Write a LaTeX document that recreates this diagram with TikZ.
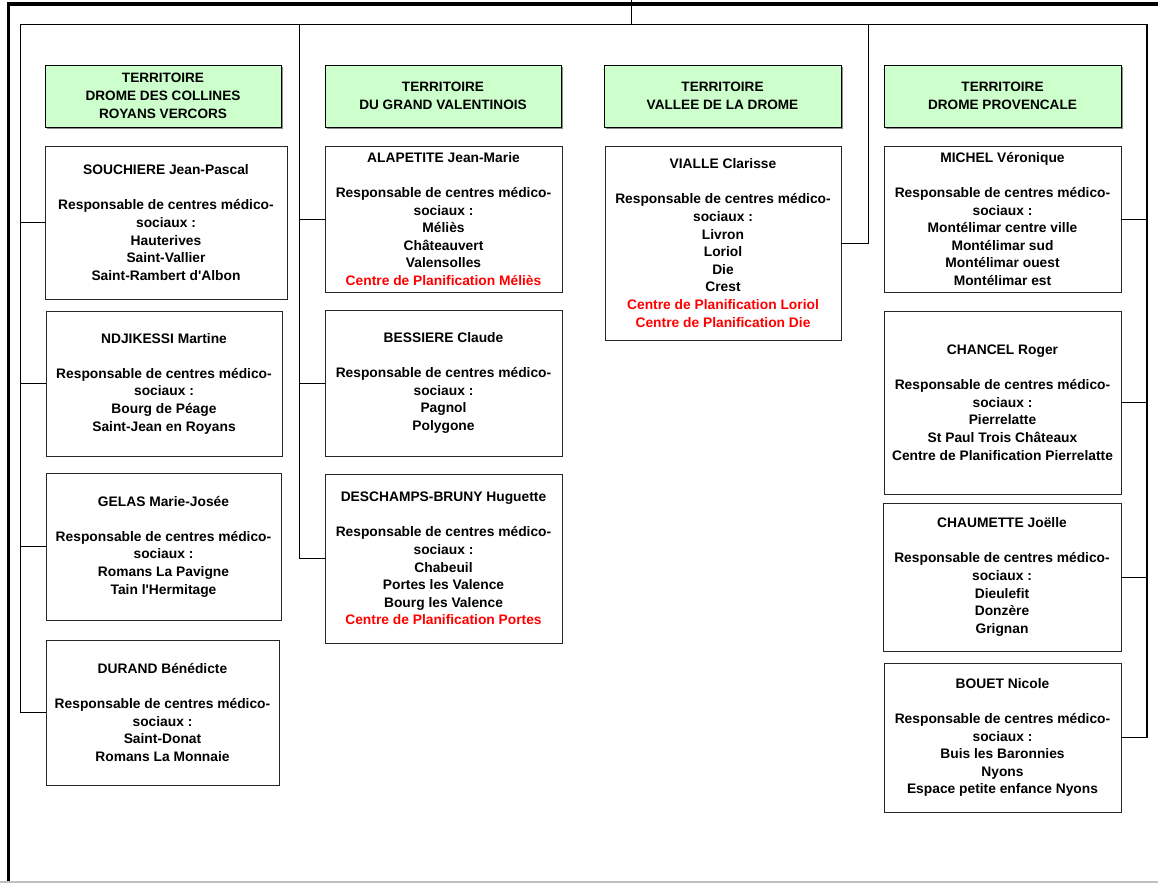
\documentclass[tikz,border=0pt]{standalone}
\usepackage{fontspec}
\setmainfont{Liberation Sans}
\newfontfamily\arialf{Liberation Sans}
\usetikzlibrary{shadows}
\definecolor{hdrgreen}{HTML}{CCFFCC}
\definecolor{planred}{HTML}{FF0000}
\begin{document}
\begin{tikzpicture}[x=1pt,y=-1pt,
  txt/.style={font=\arialf\fontsize{13.8pt}{17.6pt}\selectfont\bfseries, align=center, inner sep=0pt},
  hdr/.style={txt, font=\arialf\fontsize{13.6pt}{18pt}\selectfont\bfseries, draw=black, line width=0.8pt, fill=hdrgreen, minimum height=62pt,
    drop shadow={shadow xshift=2pt, shadow yshift=-2pt, fill=black!45, opacity=1}},
  pbox/.style={txt, draw=black!85, line width=0.8pt, fill=white,
    drop shadow={shadow xshift=1.2pt, shadow yshift=-1.2pt, fill=black!40, opacity=1}},
  link/.style={draw=black, line width=0.9pt},
  frameline/.style={line width=3.5pt, line join=miter, draw=black}
]
\useasboundingbox (0,0) rectangle (1158,883);
\newcommand{\resp}{\\[17.6pt]Responsable de centres médico-\\sociaux :\\}
\newcommand{\red}[1]{{\color{planred}#1}}

% headers
\node[hdr, minimum width=236pt] (h1) at (163,96) {TERRITOIRE\\DROME DES COLLINES\\ROYANS VERCORS};
\node[hdr, minimum width=236pt] (h2) at (443,96) {TERRITOIRE\\DU GRAND VALENTINOIS};
\node[hdr, minimum width=237pt] (h3) at (722.5,96) {TERRITOIRE\\VALLEE DE LA DROME};
\node[hdr, minimum width=237pt] (h4) at (1002.5,96) {TERRITOIRE\\DROME PROVENCALE};

% column 1
\node[pbox, minimum width=242pt, minimum height=153pt] (a1) at (166,222.5)
  {SOUCHIERE Jean-Pascal\resp Hauterives\\Saint-Vallier\\Saint-Rambert d'Albon};
\node[pbox, minimum width=236pt, minimum height=145pt] (a2) at (164,383.5)
  {NDJIKESSI Martine\resp Bourg de Péage\\Saint-Jean en Royans};
\node[pbox, minimum width=235pt, minimum height=147pt] (a3) at (163.5,546.5)
  {GELAS Marie-Josée\resp Romans La Pavigne\\Tain l'Hermitage};
\node[pbox, minimum width=233pt, minimum height=145pt] (a4) at (162.5,712.5)
  {DURAND Bénédicte\resp Saint-Donat\\Romans La Monnaie};

% column 2
\node[pbox, minimum width=237pt, minimum height=146pt] (b1) at (443.5,219)
  {ALAPETITE Jean-Marie\resp Méliès\\Châteauvert\\Valensolles\\\red{Centre de Planification Méliès}};
\node[pbox, minimum width=237pt, minimum height=146pt] (b2) at (443.5,383)
  {BESSIERE Claude\resp Pagnol\\Polygone};
\node[pbox, minimum width=237pt, minimum height=169pt] (b3) at (443.5,558.5)
  {DESCHAMPS-BRUNY Huguette\resp Chabeuil\\Portes les Valence\\Bourg les Valence\\\red{Centre de Planification Portes}};

% column 3
\node[pbox, minimum width=236pt, minimum height=194pt] (c1) at (723,243)
  {VIALLE Clarisse\resp Livron\\Loriol\\Die\\Crest\\\red{Centre de Planification Loriol}\\\red{Centre de Planification Die}};

% column 4
\node[pbox, minimum width=237pt, minimum height=146pt] (d1) at (1002.5,219)
  {MICHEL Véronique\resp Montélimar centre ville\\Montélimar sud\\Montélimar ouest\\Montélimar est};
\node[pbox, minimum width=237pt, minimum height=183pt] (d2) at (1002.5,402.5)
  {CHANCEL Roger\resp Pierrelatte\\St Paul Trois Châteaux\\Centre de Planification Pierrelatte};
\node[pbox, minimum width=238pt, minimum height=148pt] (d3) at (1002,577)
  {CHAUMETTE Joëlle\resp Dieulefit\\Donzère\\Grignan};
\node[pbox, minimum width=237pt, minimum height=149pt] (d4) at (1002.5,737.5)
  {BOUET Nicole\resp Buis les Baronnies\\Nyons\\Espace petite enfance Nyons};

% bus coordinates
\coordinate (top) at (631,0);
\coordinate (topj) at (631,24);
\coordinate (busA) at (20,24);
\coordinate (busB) at (299,24);
\coordinate (busC) at (868,24);
\coordinate (busD) at (1147,24);

% outer frame
\draw[frameline] (8.5,883) -- (8.5,3.8) -- (1158,3.8);
\draw[draw=black!25, line width=1.5pt] (0,882) -- (1158,882);

\draw[link] (top) -- (topj);
\draw[link] (busA) -- (busD);
\draw[link] (busA) |- (a4.west);
\draw[link] (a1.west) -- (a1.west -| busA);
\draw[link] (a2.west) -- (a2.west -| busA);
\draw[link] (a3.west) -- (a3.west -| busA);
\draw[link] (busB) |- (b3.west);
\draw[link] (b1.west) -- (b1.west -| busB);
\draw[link] (b2.west) -- (b2.west -| busB);
\draw[link] (busC) |- (c1.east);
\draw[link, line width=1.3pt] (busD) |- (d4.east);
\draw[link] (d1.east) -- (d1.east -| busD);
\draw[link] (d2.east) -- (d2.east -| busD);
\draw[link] (d3.east) -- (d3.east -| busD);
\end{tikzpicture}
\end{document}
